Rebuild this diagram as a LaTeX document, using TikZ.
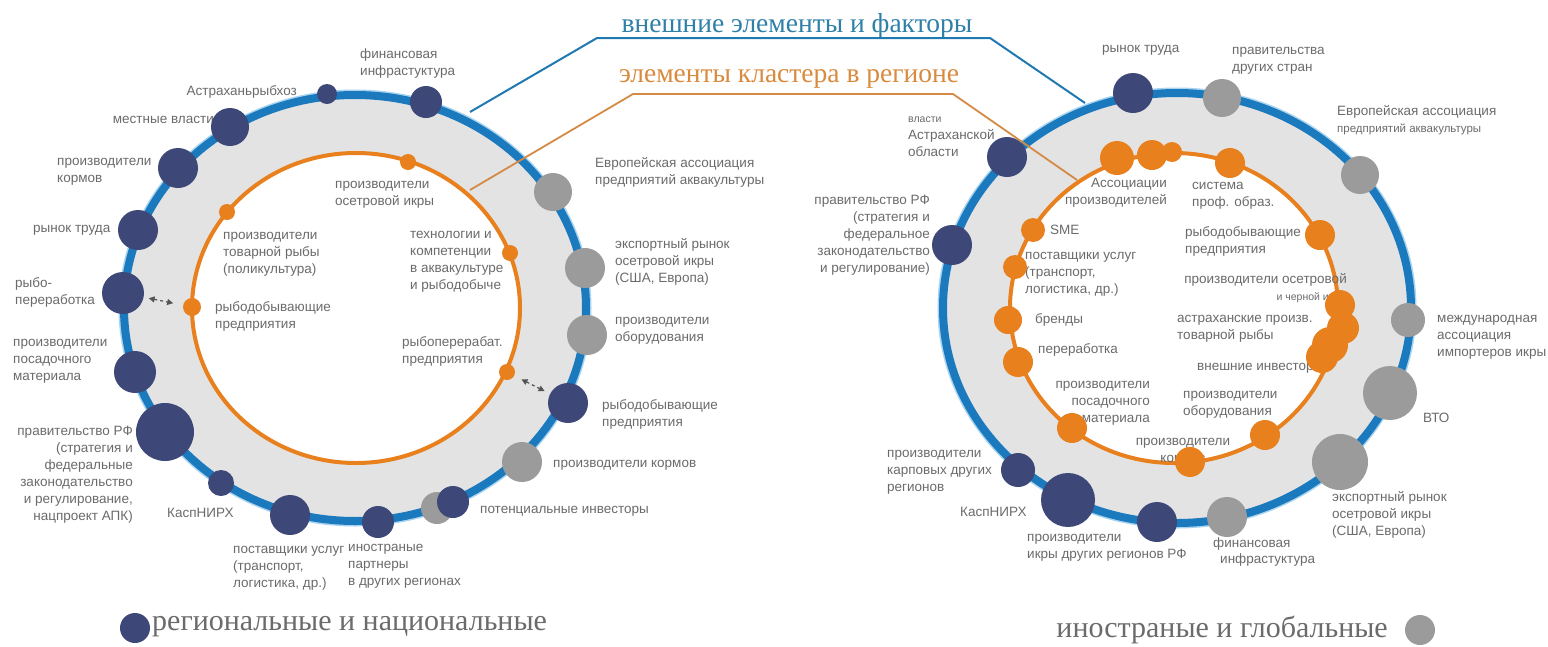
\documentclass[tikz,border=0pt]{standalone}
\usepackage{fontspec}
\setmainfont{Liberation Sans}
\newfontfamily\titlefont{Liberation Serif}
\usetikzlibrary{arrows.meta}
\definecolor{navyc}{HTML}{3D4879}
\definecolor{grayc}{HTML}{9B9B9B}
\definecolor{orangec}{HTML}{E8801E}
\definecolor{ringblue}{HTML}{1B79BE}
\definecolor{halo}{HTML}{A8D4F0}
\definecolor{fillgray}{HTML}{E3E3E3}
\definecolor{txtgray}{HTML}{6B6B6B}
\definecolor{titleblue}{HTML}{2F80A8}
\definecolor{titleorange}{HTML}{D98A3C}
\definecolor{leadblue}{HTML}{2079B0}
\definecolor{leadorange}{HTML}{D48A45}
\definecolor{arrowgray}{HTML}{555555}
\tikzset{
  dot/.style={circle, inner sep=0pt, minimum size=#1},
  nv/.style={dot=#1, fill=navyc},
  gr/.style={dot=#1, fill=grayc},
  od/.style={dot=#1, fill=orangec},
  lbl/.style={font=\fontsize{13.5}{17}\selectfont, text=txtgray, inner sep=0pt, align=left},
  lblr/.style={lbl, align=right},
  lblc/.style={lbl, align=center},
  titletext/.style={font=\titlefont\fontsize{27.5}{30}\selectfont, inner sep=0pt},
  legtext/.style={font=\titlefont\fontsize{30}{32}\selectfont, text=txtgray, inner sep=0pt},
  outerring/.style={ringblue, line width=8pt},
  haloring/.style={halo, line width=11pt},
  innerring/.style={orangec, line width=4pt},
  blueline/.style={leadblue, line width=2pt},
  orangeline/.style={leadorange, line width=1.8pt},
  dasharrow/.style={arrowgray, line width=1.2pt, dash pattern=on 3pt off 3pt,
    {Triangle[length=6pt,width=6pt]}-{Triangle[length=6pt,width=6pt]}}
}
\begin{document}
\begin{tikzpicture}[x=1pt,y=-1pt]
\fill[white] (0,0) rectangle (1548,646);
\useasboundingbox (0,0) rectangle (1548,646);

% ---------- rings ----------
\draw[haloring] (355,308) ellipse [x radius=231pt, y radius=213pt];
\fill[fillgray] (355,308) ellipse [x radius=231pt, y radius=213pt];
\fill[white] (356,308) ellipse [x radius=164pt, y radius=155pt];
\draw[outerring] (355,308) ellipse [x radius=231pt, y radius=213pt];
\draw[innerring] (356,308) ellipse [x radius=164pt, y radius=155pt];

\draw[haloring] (1177,308) ellipse [x radius=234pt, y radius=215pt];
\fill[fillgray] (1177,308) ellipse [x radius=234pt, y radius=215pt];
\fill[white] (1174,308) ellipse [x radius=164pt, y radius=155pt];
\draw[outerring] (1177,308) ellipse [x radius=234pt, y radius=215pt];
\draw[innerring] (1174,308) ellipse [x radius=164pt, y radius=155pt];

% ---------- titles and leader lines ----------
\node[titletext, text=titleblue] (tb) at (797,26) {внешние элементы и факторы};
\node[titletext, text=titleorange] (to) at (789,79) {элементы кластера в регионе};
\coordinate (bl) at (470,112);
\coordinate (bm1) at (597,38);
\coordinate (bm2) at (990,38);
\coordinate (br) at (1085,103);
\draw[blueline] (bl) -- (bm1) -- (bm2) -- (br);
\coordinate (ol) at (470,190);
\coordinate (om1) at (633,94);
\coordinate (om2) at (953,94);
\coordinate (orr) at (1077,180);
\draw[orangeline] (ol) -- (om1) -- (om2) -- (orr);

% ---------- left labels ----------
\node[lbl, anchor=east] (tLA) at (297,92) {Астраханьрыбхоз};
\node[lbl, anchor=west] (tLF) at (360,64) {финансовая\\инфрастуктура};
\node[lbl, anchor=east] (tLM) at (214,120) {местные власти};
\node[lbl, anchor=west] (tLK) at (57,172) {производители\\кормов};
\node[lbl, anchor=west] (tLR) at (33,230) {рынок труда};
\node[lbl, anchor=west] (tLP) at (15,292) {рыбо-\\переработка};
\node[lbl, anchor=west] (tLS) at (13,361) {производители\\посадочного\\материала};
\node[lblr, anchor=east] (tLG) at (133,475) {правительство РФ\\(стратегия и\\федеральные\\законодательство\\и регулирование,\\нацпроект АПК)};
\node[lbl, anchor=west] (tLN) at (167,513) {КаспНИРХ};
\node[lbl, anchor=west] (tLU) at (233,568) {поставщики услуг\\(транспорт,\\логистика, др.)};
\node[lbl, anchor=west] (tLI) at (348,566) {иностраные\\партнеры\\в других регионах};
\node[lbl, anchor=west] (tLV) at (480,511) {потенциальные инвесторы};
\node[lbl, anchor=west] (tLKg) at (553,465) {производители кормов};
\node[lbl, anchor=west] (tLD) at (602,414) {рыбодобывающие\\предприятия};
\node[lbl, anchor=west] (tLO) at (615,331) {производители\\оборудования};
\node[lbl, anchor=west] (tLE) at (615,262) {экспортный рынок\\осетровой икры\\(США, Европа)};
\node[lbl, anchor=west] (tLEu) at (595,172) {Европейская ассоциация\\предприятий аквакультуры};
\node[lbl, anchor=west] (tla) at (335,195) {производители\\осетровой икры};
\node[lbl, anchor=west] (tlb) at (223,254) {производители\\товарной рыбы\\(поликультура)};
\node[lbl, anchor=west] (tlc) at (215,316) {рыбодобывающие\\предприятия};
\node[lbl, anchor=west] (tld) at (410,262) {технологии и\\компетенции\\в аквакультуре\\и рыбодобыче};
\node[lbl, anchor=west] (tle) at (402,351) {рыбоперерабат.\\предприятия};

% ---------- right labels ----------
\node[lbl, anchor=west] (tRR) at (1102,50) {рынок труда};
\node[lbl, anchor=west] (tRG2) at (1232,61) {правительства\\других стран};
\node[lbl, anchor=west] (tREu) at (1337,120) {Европейская ассоциация\\\fontsize{11.5}{14}\selectfont предприятий аквакультуры};
\node[lbl, anchor=west] (tRM) at (1437,337) {международная\\ассоциация\\импортеров икры};
\node[lbl, anchor=west] (tRW) at (1423,418) {ВТО};
\node[lbl, anchor=west] (tRE) at (1332,515) {экспортный рынок\\осетровой икры\\(США, Европа)};
\node[lbl, anchor=west] (tRF) at (1213,552) {финансовая\\\hspace*{7pt}инфрастуктура};
\node[lbl, anchor=west] (tRI) at (1027,548) {производители\\икры других регионов РФ};
\node[lbl, anchor=west] (tRN) at (960,512) {КаспНИРХ};
\node[lbl, anchor=west] (tRK) at (887,472) {производители\\карповых других\\регионов};
\node[lblr, anchor=east] (tRG) at (930,235) {правительство РФ\\(стратегия и\\федеральное\\законодательство\\и регулирование)};
\node[lbl, anchor=west] (tRV) at (908,137) {{\fontsize{10.5}{13}\selectfont власти}\\Астраханской\\области};
\node[lblr, anchor=east] (tra) at (1167,193) {Ассоциации\\производителей};
\node[lbl, anchor=west] (trs) at (1192,196) {система\\проф. образ.};
\node[lbl, anchor=west] (trd) at (1185,241) {рыбодобывающие\\предприятия};
\node[lbl, anchor=west] (trme) at (1050,230) {SME};
\node[lbl, anchor=west] (tru) at (1025,274) {поставщики услуг\\(транспорт,\\логистика, др.)};
\node[lbl, anchor=west] (trb) at (1035,320) {бренды};
\node[lbl, anchor=west] (trp) at (1038,350) {переработка};
\node[lblr, anchor=east] (trpos) at (1150,403) {производители\\посадочного\\материала};
\node[lblc] (trkorm) at (1183,452) {производители\\кормов};
\node[lbl, anchor=west] (trob) at (1183,405) {производители\\оборудования};
\node[lbl, anchor=west] (trinv) at (1197,368) {внешние инвесторы};
\node[lbl, anchor=west] (trast) at (1177,329) {астраханские произв.\\товарной рыбы};
\node[lblr, anchor=east] (trost) at (1347,288) {производители осетровой\\\fontsize{10.5}{13}\selectfont и черной икры};

% ---------- left nodes ----------
\node[nv=20] (LA) at (327,94) {};
\node[nv=32] (LF) at (426,102) {};
\node[nv=38] (LM) at (230,127) {};
\node[nv=40] (LK) at (178,168) {};
\node[nv=40] (LR) at (138,230) {};
\node[nv=42] (LP) at (123,293) {};
\node[nv=42] (LS) at (135,372) {};
\node[nv=58] (LG) at (165,432) {};
\node[nv=26] (LN) at (221,483) {};
\node[nv=40] (LU) at (290,515) {};
\node[nv=32] (LI) at (378,522) {};
\node[gr=32] (LV1) at (437,508) {};
\node[nv=32] (LV2) at (453,502) {};
\node[gr=40] (LKg) at (522,462) {};
\node[nv=40] (LD) at (568,403) {};
\node[gr=40] (LO) at (587,335) {};
\node[gr=40] (LE) at (585,268) {};
\node[gr=38] (LEu) at (553,192) {};

\node[od=16] (la) at (408,162) {};
\node[od=16] (lb) at (227,212) {};
\node[od=18] (lc) at (192,307) {};
\node[od=16] (ld) at (510,253) {};
\node[od=16] (le) at (507,372) {};

\draw[dasharrow, shorten <=5pt, shorten >=10pt] (LP) -- (lc);
\draw[dasharrow, shorten <=8pt, shorten >=6pt] (le) -- (LD);

% ---------- right nodes ----------
\node[nv=40] (RR) at (1133,93) {};
\node[gr=38] (RG2) at (1222,98) {};
\node[gr=38] (REu) at (1360,175) {};
\node[gr=34] (RM) at (1408,320) {};
\node[gr=54] (RW) at (1390,393) {};
\node[gr=56] (RE) at (1340,462) {};
\node[gr=40] (RF) at (1227,517) {};
\node[nv=40] (RI) at (1157,522) {};
\node[nv=54] (RN) at (1068,500) {};
\node[nv=34] (RK) at (1018,470) {};
\node[nv=40] (RG) at (952,245) {};
\node[nv=40] (RV) at (1007,157) {};

\node[od=34] (ra1) at (1117,158) {};
\node[od=30] (ra2) at (1152,155) {};
\node[od=20] (ra3) at (1172,152) {};
\node[od=30] (rs) at (1230,163) {};
\node[od=30] (rd) at (1320,235) {};
\node[od=24] (rme) at (1033,230) {};
\node[od=24] (ru) at (1015,267) {};
\node[od=28] (rb) at (1008,320) {};
\node[od=30] (rp) at (1018,362) {};
\node[od=30] (rpos) at (1072,428) {};
\node[od=30] (rkorm) at (1190,462) {};
\node[od=30] (rob) at (1265,435) {};
\node[od=30] (rc1) at (1340,305) {};
\node[od=32] (rc2) at (1343,328) {};
\node[od=36] (rc3) at (1330,345) {};
\node[od=32] (rc4) at (1322,357) {};

% ---------- legend ----------
\node[nv=30] (legN) at (135,628) {};
\node[legtext, anchor=west] (legNt) at (152,627) {региональные и национальные};
\node[gr=30] (legG) at (1420,630) {};
\node[legtext, anchor=east] (legGt) at (1388,630) {иностраные и глобальные};
\end{tikzpicture}
\end{document}
